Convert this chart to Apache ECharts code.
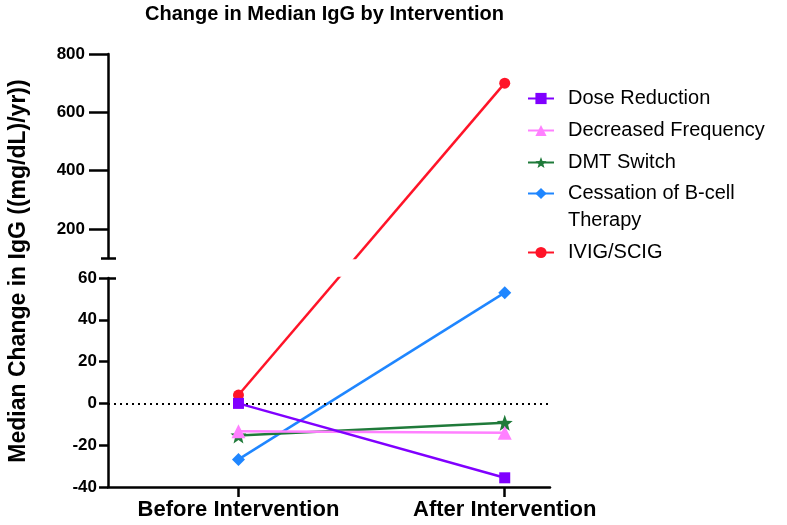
<!DOCTYPE html>
<html>
<head>
<meta charset="utf-8">
<script src="https://cdn.jsdelivr.net/npm/echarts@6/dist/echarts.min.js"></script>
<style>html,body{margin:0;padding:0;background:#fff}#c{width:787px;height:525px}</style>
</head>
<body>
<div id="c"></div>
<script>
const categories = ['Before Intervention', 'After Intervention'];
const seriesNames = ['Dose Reduction', 'Decreased Frequency', 'DMT Switch', 'Cessation of B-cell Therapy', 'IVIG/SCIG'];
const doseReduction = [0, -35.6];
const decreasedFrequency = [-13.3, -14];
const dmtSwitch = [-15.3, -9.3];
const cessation = [-26.8, 53];
const ivig = [4, 700];
const lowerTicks = [-40, -20, 0, 20, 40, 60];
const upperTicks = [200, 400, 600, 800];
const upperMin = 100;

const FONT = '"Liberation Sans", Arial, Helvetica, sans-serif';
const colors = ['#8000ff', '#ff80ff', '#1f7a3a', '#1f86ff', '#ff1428'];

function starPath() {
  const pts = [];
  for (let k = 0; k < 10; k++) {
    const r = k % 2 === 0 ? 10 : 4.2;
    const a = -Math.PI / 2 + k * Math.PI / 5;
    pts.push((10 + r * Math.cos(a)).toFixed(2) + ' ' + (10 + r * Math.sin(a)).toFixed(2));
  }
  return 'path://M' + pts.join(' L') + ' Z';
}

const pairs = arr => categories.map((c, i) => [i, arr[i]]);
const axisLineStyle = { color: '#000', width: 2.5 };

function lineSeries(name, arr, color, symbol, size, z) {
  return {
    name: name, type: 'line', xAxisIndex: 0, yAxisIndex: 0,
    data: pairs(arr), symbol: symbol, symbolSize: size, z: z,
    lineStyle: { color: color, width: 2.5 }, itemStyle: { color: color },
    clip: true
  };
}

const legendBase = {
  orient: 'vertical', left: 527, padding: 0,
  itemWidth: 26, itemHeight: 14, itemGap: 5,
  // the wrapped legend entry keeps its icon level with its first line
  formatter: n => n === 'Cessation of B-cell Therapy' ? '\nCessation of B-cell\nTherapy' : n,
  textStyle: { fontSize: 20, lineHeight: 27, color: '#000', fontFamily: FONT, padding: [0, 0, 0, 9] }
};

const option = {
  animation: false,
  backgroundColor: '#fff',
  textStyle: { fontFamily: FONT },
  title: {
    text: 'Change in Median IgG by Intervention',
    left: 145, top: 4, padding: 0,
    textStyle: { fontSize: 20, fontWeight: 'bold', color: '#000', fontFamily: FONT }
  },
  legend: [
    Object.assign({}, legendBase, { top: 85, data: seriesNames.slice(0, 3) }),
    Object.assign({}, legendBase, { top: 153, data: seriesNames.slice(3) })
  ],
  graphic: [{
    type: 'text', x: 19, y: 271, rotation: Math.PI / 2,
    style: {
      text: 'Median Change in IgG ((mg/dL)/yr))', fill: '#000',
      font: 'bold 23px ' + FONT, fontSize: 23, fontWeight: 'bold', fontFamily: FONT,
      align: 'center', verticalAlign: 'middle', textAlign: 'center', textVerticalAlign: 'middle'
    }
  }],
  grid: [
    { left: 108, top: 278, width: 442, height: 209, containLabel: false },
    { left: 108, top: 54, width: 442, height: 204, containLabel: false }
  ],
  xAxis: [
    {
      gridIndex: 0, type: 'value', min: -0.49, max: 1.17,
      splitLine: { show: false },
      axisLine: { onZero: false, lineStyle: axisLineStyle },
      axisTick: { customValues: [0, 1], length: 10, lineStyle: axisLineStyle },
      axisLabel: {
        customValues: [0, 1], formatter: v => categories[Math.round(v)],
        fontSize: 22, fontWeight: 'bold', color: '#000', fontFamily: FONT, margin: 12
      }
    },
    { gridIndex: 1, type: 'value', min: -0.49, max: 1.17, show: false }
  ],
  yAxis: [
    {
      gridIndex: 0, type: 'value', position: 'left', min: lowerTicks[0], max: lowerTicks[lowerTicks.length - 1], interval: 20,
      splitLine: { show: false },
      axisLine: { show: true, onZero: false, lineStyle: axisLineStyle },
      axisTick: { show: true, length: 9, lineStyle: axisLineStyle },
      axisLabel: { fontSize: 17, fontWeight: 'bold', color: '#000', fontFamily: FONT, margin: 11 }
    },
    {
      gridIndex: 1, type: 'value', position: 'left', min: upperMin, max: upperTicks[upperTicks.length - 1],
      splitLine: { show: false },
      axisLine: { show: true, onZero: false, lineStyle: axisLineStyle },
      axisTick: { show: true, customValues: upperTicks, length: 19, lineStyle: axisLineStyle },
      axisLabel: { customValues: upperTicks, fontSize: 17, fontWeight: 'bold', color: '#000', fontFamily: FONT, margin: 23 }
    },
    {
      gridIndex: 0, type: 'value', position: 'left', offset: -8, min: lowerTicks[0], max: lowerTicks[lowerTicks.length - 1],
      splitLine: { show: false }, axisLine: { show: false, onZero: false },
      axisTick: { show: true, customValues: [lowerTicks[lowerTicks.length - 1]], length: 17, lineStyle: axisLineStyle },
      axisLabel: { show: false }
    },
    {
      gridIndex: 1, type: 'value', position: 'left', offset: -8, min: upperMin, max: upperTicks[upperTicks.length - 1],
      splitLine: { show: false }, axisLine: { show: false, onZero: false },
      axisTick: { show: true, customValues: [upperMin], length: 15, lineStyle: axisLineStyle },
      axisLabel: { show: false }
    }
  ],
  series: [
    {
      id: 'ivigLower', name: 'IVIG/SCIG', type: 'line', xAxisIndex: 0, yAxisIndex: 0,
      data: pairs(ivig), symbol: 'circle', symbolSize: 11, z: 2,
      lineStyle: { color: colors[4], width: 2.5 }, itemStyle: { color: colors[4] }, clip: true
    },
    {
      id: 'ivigUpper', name: 'IVIG/SCIG', type: 'line', xAxisIndex: 1, yAxisIndex: 1,
      data: pairs(ivig), symbol: 'circle', symbolSize: 11, z: 2,
      lineStyle: { color: colors[4], width: 2.5 }, itemStyle: { color: colors[4] }, clip: true
    },
    lineSeries('Cessation of B-cell Therapy', cessation, colors[3], 'diamond', 13, 3),
    lineSeries('DMT Switch', dmtSwitch, colors[2], starPath(), 16, 4),
    lineSeries('Decreased Frequency', decreasedFrequency, colors[1], 'triangle', 14, 5),
    Object.assign(lineSeries('Dose Reduction', doseReduction, colors[0], 'rect', 11, 6), {
      markLine: {
        silent: true, symbol: 'none', animation: false,
        label: { show: false },
        lineStyle: { color: '#000', width: 2, type: [2, 4] },
        data: [{ yAxis: 0 }]
      }
    })
  ]
};

const chart = echarts.init(document.getElementById('c'), null, { renderer: 'canvas' });
chart.setOption(option);

// Red line crosses the axis break: map each end point into the other panel's scale
const pBefore = chart.convertToPixel({ xAxisIndex: 0, yAxisIndex: 0 }, [0, ivig[0]]);
const pAfter = chart.convertToPixel({ xAxisIndex: 1, yAxisIndex: 1 }, [1, ivig[1]]);
const afterInLower = chart.convertFromPixel({ xAxisIndex: 0, yAxisIndex: 0 }, pAfter);
const beforeInUpper = chart.convertFromPixel({ xAxisIndex: 1, yAxisIndex: 1 }, pBefore);
chart.setOption({
  series: [
    { id: 'ivigLower', data: [[0, ivig[0]], { value: afterInLower, symbol: 'none' }] },
    { id: 'ivigUpper', data: [{ value: beforeInUpper, symbol: 'none' }, [1, ivig[1]]] }
  ]
});
</script>
</body>
</html>
